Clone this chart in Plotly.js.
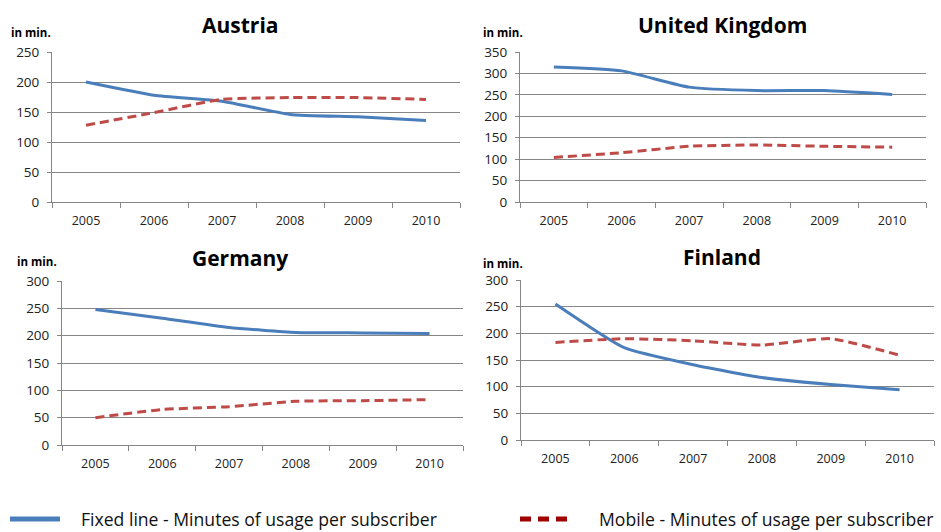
<!DOCTYPE html>
<html><head><meta charset="utf-8">
<script src="https://cdn.plot.ly/plotly-3.0.1.min.js"></script>
<style>html,body{margin:0;padding:0;background:#fff}#chart{width:941px;height:532px}</style>
</head><body><div id="chart"></div>
<script>
const years = ["2005","2006","2007","2008","2009","2010"];
const countries = ["Austria","United Kingdom","Germany","Finland"];
const austriaFixed = [200,178,168,146,142,136];
const austriaMobile = [128,149,171,174,174,171];
const ukFixed = [315,306,268,260,260,251];
const ukMobile = [104,115,130,133,130,128];
const germanyFixed = [248,232,215,206,205,204];
const germanyMobile = [50,65,70,80,81,83];
const finlandFixed = [255,173,141,117,104,94];
const finlandMobile = [183,190,186,178,190,159];
const yMax = [250,350,300,300];
const seriesNames = ["Fixed line - Minutes of usage per subscriber","Mobile - Minutes of usage per subscriber"];
const unitLabel = "in min.";

const W = 941, H = 532;
const px = x => x / W, py = y => 1 - y / H;
const fixedData = [austriaFixed, ukFixed, germanyFixed, finlandFixed];
const mobileData = [austriaMobile, ukMobile, germanyMobile, finlandMobile];
// panel pixel boxes: [left, right, top, bottom]
const boxes = [[52,460,52,202],[520,926,52,202],[62,463,281,445],[521,934,280,440]];
const titlePos = [[240,25],[722,25],[240,258],[722,257]];
const unitPos = [[9,33],[481,32],[15,262],[481,263]];

const FONT = "'Open Sans', 'Noto Sans', sans-serif";
const BLUE = "#4A7EBB", RED = "#BE4B48";
const traces = [];
const layout = {
  width: W, height: H, margin: {l:0,r:0,t:0,b:0},
  paper_bgcolor: "#fff", plot_bgcolor: "#fff",
  font: {family: FONT, color: "#222", size: 11},
  showlegend: false,
  annotations: [],
  shapes: [
    {type: "line", xref: "paper", yref: "paper", x0: px(10), x1: px(60), y0: py(519), y1: py(519),
     line: {color: BLUE, width: 5}},
    {type: "line", xref: "paper", yref: "paper", x0: px(520), x1: px(569), y0: py(519), y1: py(519),
     line: {color: "#A00000", width: 5, dash: "11px,7px"}}
  ]
};
layout.annotations.push({text: seriesNames[0], xref: "paper", yref: "paper", x: px(79), y: py(519),
  xanchor: "left", yanchor: "middle", showarrow: false, font: {family: FONT, size: 17.6, color: "#111"}});
layout.annotations.push({text: seriesNames[1], xref: "paper", yref: "paper", x: px(597), y: py(519),
  xanchor: "left", yanchor: "middle", showarrow: false, font: {family: FONT, size: 17.6, color: "#111"}});
for (let i = 0; i < 4; i++) {
  const ax = i === 0 ? "" : String(i + 1);
  const b = boxes[i];
  traces.push({x: years, y: fixedData[i], type: "scatter", mode: "lines", name: seriesNames[0],
    xaxis: "x" + ax, yaxis: "y" + ax,
    line: {color: BLUE, width: 3, shape: "spline", smoothing: 0.5}});
  traces.push({x: years, y: mobileData[i], type: "scatter", mode: "lines", name: seriesNames[1],
    xaxis: "x" + ax, yaxis: "y" + ax,
    line: {color: RED, width: 3, dash: "9px,5px", shape: "spline", smoothing: 0.5}});
  layout["xaxis" + ax] = {domain: [px(b[0]), px(b[1])], anchor: "y" + ax, type: "category",
    range: [-0.5, 5.5], tickson: "boundaries", ticks: "outside", ticklen: 5, tickcolor: "#868686",
    ticklabelstandoff: 7,
    showline: true, linecolor: "#868686", linewidth: 1, showgrid: false, zeroline: false,
    tickfont: {family: FONT, size: 12.5, color: "#222"}, fixedrange: true, automargin: false};
  layout["yaxis" + ax] = {domain: [py(b[3]), py(b[2])], anchor: "x" + ax, range: [0, yMax[i]],
    dtick: 50, tick0: 0, ticks: "outside", ticklen: 4, tickcolor: "#868686",
    ticklabelstandoff: 5,
    showline: true, linecolor: "#868686", linewidth: 1, showgrid: true, gridcolor: "#868686",
    gridwidth: 1, zeroline: false, tickfont: {family: FONT, size: 13.5, color: "#222"},
    fixedrange: true, automargin: false};
  layout.annotations.push({text: "<b>" + countries[i] + "</b>", xref: "paper", yref: "paper",
    x: px(titlePos[i][0]), y: py(titlePos[i][1]), xanchor: "center", yanchor: "middle",
    showarrow: false, font: {family: FONT, size: 21, color: "#000"}});
  layout.annotations.push({text: "<b>" + unitLabel + "</b>", xref: "paper", yref: "paper",
    x: px(unitPos[i][0]), y: py(unitPos[i][1]), xanchor: "left", yanchor: "middle",
    showarrow: false, font: {family: FONT, size: 11.5, color: "#000"}});
}
Plotly.newPlot("chart", traces, layout, {staticPlot: true});
</script></body></html>
